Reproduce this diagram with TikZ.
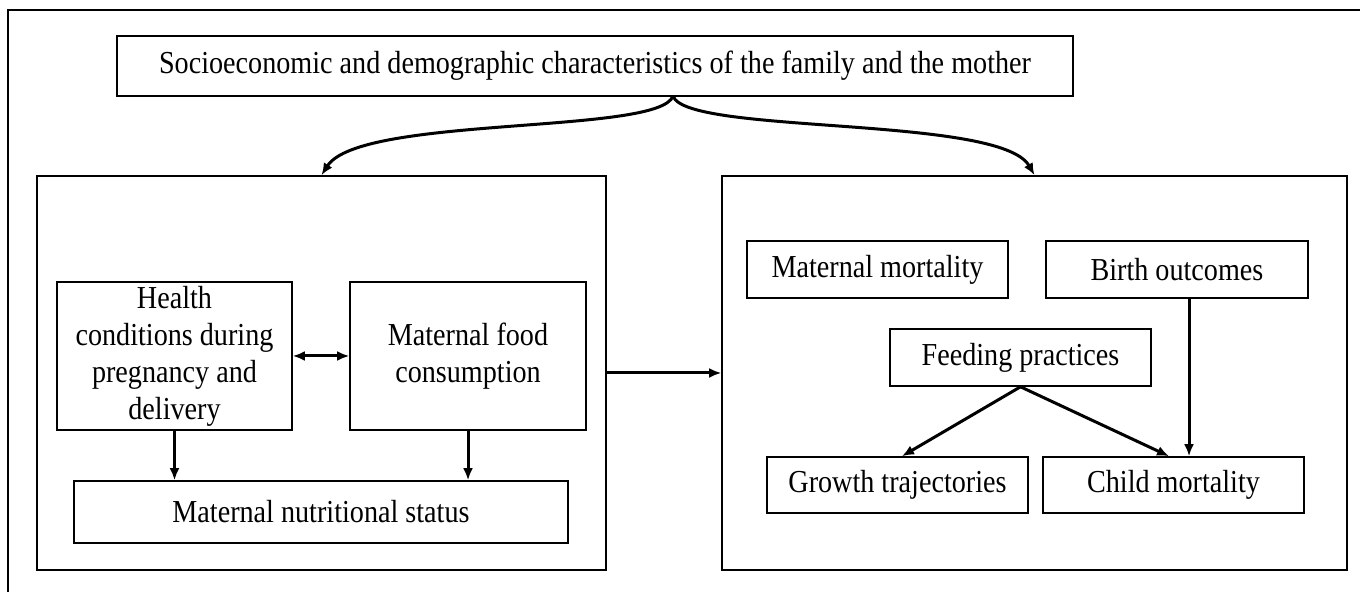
\documentclass[tikz,border=0pt]{standalone}
\usepackage{fontspec}
\setmainfont{Liberation Serif}[FakeStretch=0.88]
\usepackage{tikz}
\usetikzlibrary{arrows.meta, positioning}

\begin{document}
\begin{tikzpicture}[x=0.5pt, y=-0.5pt,
    box/.style={draw, line width=0.8pt, align=center, inner sep=1pt,
        font=\fontsize{16}{18.5}\selectfont},
    group/.style={draw, line width=0.8pt},
    link/.style={line width=1.5pt, -{Latex[length=6pt,width=5pt]}}]
    \useasboundingbox (0,0) rectangle (1360,592);
    \clip (0,0) rectangle (1360,592);

    % Frame
    \draw[line width=0.6pt] (1400,10) -- (8,10) -- (8,640);

    % Top box
    \node[box, minimum width=478pt, minimum height=30pt] (socio) at (595,66)
        {Socioeconomic and demographic characteristics of the family and the mother};
    \coordinate (split) at (673,96);

    % Groups
    \node[group, minimum width=284.5pt, minimum height=197pt] (maternal) at (321.5,373) {};
    \node[group, minimum width=312.5pt, minimum height=197pt] (outcomes) at (1034.5,373) {};

    % Left group
    \node[box, minimum width=117.5pt, minimum height=74pt] (health) at (174.5,356)
        {Health\\conditions during\\pregnancy and\\delivery};
    \node[box, minimum width=118pt, minimum height=74pt] (food) at (468,356)
        {Maternal food\\consumption};
    \node[box, minimum width=247pt, minimum height=31pt] (nutrition) at (321,512)
        {Maternal nutritional status};

    % Right group
    \node[box, minimum width=130.5pt, minimum height=28.5pt] (matmort) at (877.5,269.5) {Maternal mortality};
    \node[box, minimum width=131pt, minimum height=28.5pt] (birth) at (1177,269.5) {Birth outcomes};
    \node[box, minimum width=130.5pt, minimum height=28.5pt] (feeding) at (1020.5,357.5) {Feeding practices};
    \node[box, minimum width=130.5pt, minimum height=28pt] (growth) at (897.5,485) {Growth trajectories};
    \node[box, minimum width=130.5pt, minimum height=28pt] (childmort) at (1173.5,485) {Child mortality};

    % Arrows
    \draw[link] (split) .. controls (660,135) and (360,115) .. (maternal.north);
    \draw[link] (split) .. controls (686,135) and (1000,115) .. (outcomes.north);
    \draw[link, {Latex[length=6pt,width=5pt]}-{Latex[length=6pt,width=5pt]}] (health) -- (food);
    \draw[link] (health.south) -- (health.south |- nutrition.north);
    \draw[link] (food.south) -- (food.south |- nutrition.north);
    \draw[link] (maternal) -- (outcomes);
    \draw[link] (feeding.south) -- (growth.north -| 902,0);
    \draw[link] (feeding.south) -- (childmort.north -| 1169,0);
    \draw[link] (birth.south -| 1189,0) -- (childmort.north -| 1189,0);
\end{tikzpicture}
\end{document}
